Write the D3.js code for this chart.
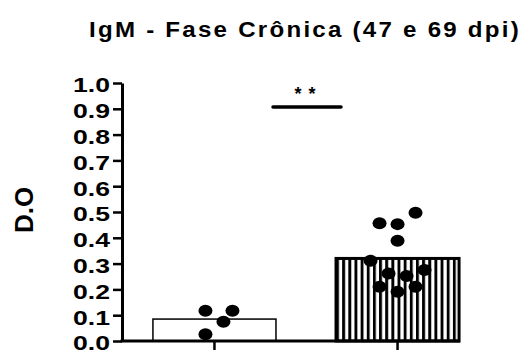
<!DOCTYPE html>
<html>
<head>
<meta charset="utf-8">
<script src="https://cdn.jsdelivr.net/npm/d3@7"></script>
<style>
  html, body { margin: 0; padding: 0; background: #fff; }
  svg { display: block; font-family: "Liberation Sans", Arial, Helvetica, sans-serif; }
</style>
</head>
<body>
<svg id="chart" width="528" height="350"></svg>
<script>
// Groups and mean optical density per group
const groups = ["Controle", "Infectado"];
const groupMeans = [0.085, 0.32];

// Individual animals (D.O) per group
const controlValues = [0.117, 0.117, 0.075, 0.026];
const infectedValues = [0.497, 0.456, 0.453, 0.389, 0.311, 0.262, 0.252, 0.275, 0.210, 0.191, 0.210];

// Horizontal column slot of each point inside its group (scatter layout)
const controlSlots = [-1, 2, 1, -1];
const infectedSlots = [2, -2, 0, 0, -3, -1, 1, 3, -2, 0, 2];

// Y axis ticks
const yTicks = [0, 0.1, 0.2, 0.3, 0.4, 0.5, 0.6, 0.7, 0.8, 0.9, 1.0];

const titleText = "IgM - Fase Crônica (47 e 69 dpi)";
const yLabel = "D.O";
const significance = "**";

const svg = d3.select("#chart");

const plot = { left: 122, right: 460, top: 83, bottom: 341 };

const y = d3.scaleLinear().domain([0, 1]).range([plot.bottom, plot.top]);
const x = d3.scaleBand()
  .domain(groups)
  .range([plot.left, plot.left + 368])
  .paddingInner(0.328)
  .paddingOuter(0.169);

const slotWidth = 9;

// Vertical stripe fill for the second bar
const defs = svg.append("defs");
defs.append("pattern")
  .attr("id", "vstripes")
  .attr("patternUnits", "userSpaceOnUse")
  .attr("x", x(groups[1]))
  .attr("width", 6.15)
  .attr("height", 10)
  .append("rect")
  .attr("x", 0).attr("y", 0)
  .attr("width", 2.9).attr("height", 10)
  .attr("fill", "#000");

// Bars
const barStyles = [
  { fill: "#fff", stroke: 1.5 },
  { fill: "url(#vstripes)", stroke: 3 }
];
svg.append("g").selectAll("rect")
  .data(groups)
  .join("rect")
  .attr("x", d => x(d))
  .attr("width", x.bandwidth())
  .attr("y", (d, i) => y(groupMeans[i]))
  .attr("height", (d, i) => y(0) - y(groupMeans[i]))
  .attr("fill", (d, i) => barStyles[i].fill)
  .attr("stroke", "#000")
  .attr("stroke-width", (d, i) => barStyles[i].stroke);

// Axes
const yAxis = d3.axisLeft(y)
  .tickValues(yTicks)
  .tickFormat(d3.format(".1f"))
  .tickSize(9)
  .tickSizeOuter(0)
  .tickPadding(3);

const gy = svg.append("g")
  .attr("transform", `translate(${plot.left},0)`)
  .call(yAxis);
gy.select(".domain").attr("stroke-width", 3).attr("stroke", "#000");
gy.selectAll(".tick line").attr("stroke-width", 2.5).attr("stroke", "#000");
gy.selectAll(".tick text")
  .attr("fill", "#000")
  .attr("font-size", 21)
  .attr("font-weight", "bold")
  .attr("dy", "0.42em")
  .attr("textLength", 37)
  .attr("lengthAdjust", "spacingAndGlyphs");

// X baseline and category ticks (no category labels)
svg.append("line")
  .attr("x1", plot.left - 1.5).attr("x2", plot.right)
  .attr("y1", y(0)).attr("y2", y(0))
  .attr("stroke", "#000").attr("stroke-width", 3);
svg.append("g").selectAll("line")
  .data(groups)
  .join("line")
  .attr("x1", d => x(d) + x.bandwidth() / 2)
  .attr("x2", d => x(d) + x.bandwidth() / 2)
  .attr("y1", y(0)).attr("y2", y(0) + 9)
  .attr("stroke", "#000").attr("stroke-width", 2.5);

// Points
const points = [];
controlValues.forEach((v, i) => points.push({ g: groups[0], v, s: controlSlots[i] }));
infectedValues.forEach((v, i) => points.push({ g: groups[1], v, s: infectedSlots[i] }));

svg.append("g").selectAll("ellipse")
  .data(points)
  .join("ellipse")
  .attr("cx", d => x(d.g) + x.bandwidth() / 2 + d.s * slotWidth)
  .attr("cy", d => y(d.v))
  .attr("rx", 7)
  .attr("ry", 6)
  .attr("fill", "#000");

// Significance bracket
const sigY = 107;
svg.append("line")
  .attr("x1", 273).attr("x2", 341)
  .attr("y1", sigY).attr("y2", sigY)
  .attr("stroke", "#000").attr("stroke-width", 3.5)
  .attr("stroke-linecap", "round");
svg.append("text")
  .attr("x", 305).attr("y", 100)
  .attr("text-anchor", "middle")
  .attr("font-size", 18)
  .attr("font-weight", "bold")
  .attr("letter-spacing", 7)
  .attr("dx", 3.5)
  .text(significance);

// Title
svg.append("text")
  .attr("x", 89).attr("y", 37)
  .attr("font-size", 21.5)
  .attr("font-weight", "bold")
  .attr("letter-spacing", 2)
  .attr("textLength", 432)
  .attr("lengthAdjust", "spacingAndGlyphs")
  .text(titleText);

// Y axis label
svg.append("text")
  .attr("transform", "translate(33,210) rotate(-90)")
  .attr("text-anchor", "middle")
  .attr("font-size", 26)
  .attr("font-weight", "bold")
  .text(yLabel);
</script>
</body>
</html>
